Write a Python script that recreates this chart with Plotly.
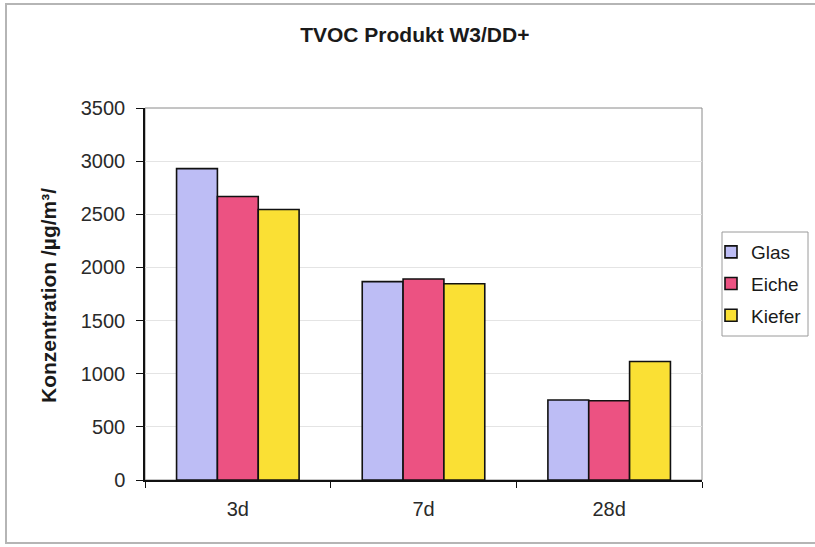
import plotly.graph_objects as go

categories = ["3d", "7d", "28d"]
series_names = ["Glas", "Eiche", "Kiefer"]
glas = [2930, 1866, 753]
eiche = [2668, 1891, 746]
kiefer = [2545, 1846, 1115]
series_values = [glas, eiche, kiefer]
colors = ["#BDBDF5", "#EC5282", "#FAE034"]
y_ticks = [0, 500, 1000, 1500, 2000, 2500, 3000, 3500]

W, H = 815, 547
L, R, T, B = 145, 113, 108, 67
pw, ph = W - L - R, H - T - B

fig = go.Figure()
for name, vals, col in zip(series_names, series_values, colors):
    fig.add_trace(go.Bar(
        x=categories, y=vals, name=name, legendgroup=name,
        marker=dict(color=col, line=dict(color="#111111", width=1.6)),
    ))

def px_x(p):
    return (p - L) / pw

def px_y(p):
    return (H - B - p) / ph

fig.update_layout(
    width=W, height=H,
    margin=dict(l=L, r=R, t=T, b=B, autoexpand=False),
    paper_bgcolor="white", plot_bgcolor="white",
    barmode="group", bargap=0.34, bargroupgap=0,
    font=dict(family="Liberation Sans, Arial, sans-serif", color="#2a2a2a", size=20),
    title=dict(text="<b>TVOC Produkt W3/DD+</b>", x=0.509, xref="container", xanchor="center",
               y=1 - 35 / H, yref="container", yanchor="middle",
               font=dict(size=21, color="#1a1a1a")),
    showlegend=True,
    legend=dict(xref="container", yref="container", x=711 / W, xanchor="left",
                y=1 - 233 / H, yanchor="top",
                borderwidth=0, bgcolor="rgba(0,0,0,0)",
                font=dict(size=19, color="#1a1a1a"), tracegroupgap=4,
                traceorder="grouped", itemwidth=30),
    xaxis=dict(showline=True, linecolor="#111111", linewidth=1.5,
               ticks="outside", tickson="boundaries", ticklen=6, tickcolor="#111111",
               showgrid=False, tickfont=dict(size=20), ticklabelstandoff=10),
    yaxis=dict(range=[0, 3500], tickvals=y_ticks, showline=True, linecolor="#111111", linewidth=1.5,
               ticks="outside", ticklen=7, tickcolor="#111111",
               showgrid=True, gridcolor="#e4e4e4", gridwidth=1, zeroline=False,
               tickfont=dict(size=20), ticklabelstandoff=7),
    annotations=[dict(text="<b>Konzentration /µg/m³/</b>", textangle=-90,
                      xref="paper", yref="paper", x=px_x(48), y=px_y(296),
                      xanchor="center", yanchor="middle", showarrow=False,
                      font=dict(size=21, color="#1a1a1a"))],
    shapes=[
        dict(type="rect", xref="paper", yref="paper", x0=0, x1=1, y0=0, y1=1,
             line=dict(color="#8a8a8a", width=1), layer="below"),
        dict(type="rect", xref="paper", yref="paper", x0=px_x(6), x1=px_x(816),
             y0=px_y(543), y1=px_y(4), line=dict(color="#b5b5b5", width=2), layer="below"),
        dict(type="rect", xref="paper", yref="paper", x0=px_x(722), x1=px_x(808),
             y0=px_y(336), y1=px_y(232), line=dict(color="#9a9a9a", width=1),
             fillcolor="white", layer="below"),
    ],
)

fig.write_html("out.html")
